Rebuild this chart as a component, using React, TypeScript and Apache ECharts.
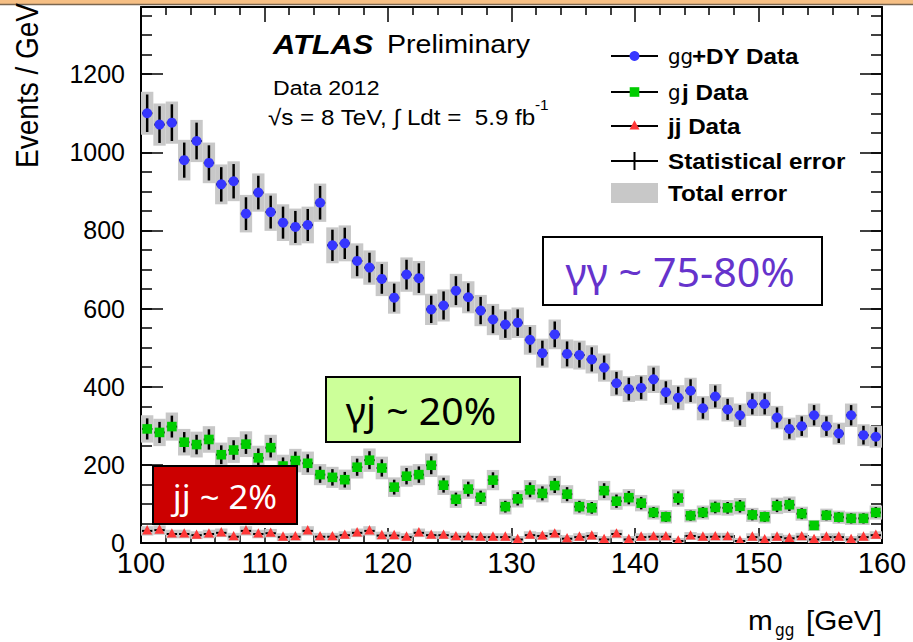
import React, { useEffect, useRef } from "react";
import * as echarts from "echarts";

// ---------- data (1 GeV bins, 100–160 GeV) ----------
const binCenters = [
  100.5, 101.5, 102.5, 103.5, 104.5, 105.5, 106.5, 107.5, 108.5, 109.5,
  110.5, 111.5, 112.5, 113.5, 114.5, 115.5, 116.5, 117.5, 118.5, 119.5,
  120.5, 121.5, 122.5, 123.5, 124.5, 125.5, 126.5, 127.5, 128.5, 129.5,
  130.5, 131.5, 132.5, 133.5, 134.5, 135.5, 136.5, 137.5, 138.5, 139.5,
  140.5, 141.5, 142.5, 143.5, 144.5, 145.5, 146.5, 147.5, 148.5, 149.5,
  150.5, 151.5, 152.5, 153.5, 154.5, 155.5, 156.5, 157.5, 158.5, 159.5,
];

// γγ + DY data
const ggValues = [
  1100, 1071, 1076, 980, 1029, 973, 918, 926, 843, 897,
  847, 820, 809, 814, 871, 762, 767, 722, 705, 676,
  628, 687, 678, 598, 608, 646, 629, 595, 572, 559,
  564, 520, 486, 534, 484, 481, 470, 449, 409, 394,
  397, 419, 386, 372, 390, 345, 375, 342, 327, 356,
  356, 321, 292, 299, 327, 299, 280, 327, 276, 272,
];
const ggStat = [
  48, 47, 47, 45, 47, 45, 44, 44, 42, 43,
  42, 41, 41, 41, 43, 40, 40, 39, 38, 38,
  36, 38, 38, 35, 36, 37, 36, 35, 35, 34,
  34, 33, 32, 33, 32, 32, 31, 31, 29, 29,
  29, 30, 28, 28, 29, 27, 28, 27, 26, 27,
  27, 26, 25, 25, 26, 25, 24, 26, 24, 24,
];
const ggTotal = [
  55, 54, 54, 52, 54, 52, 51, 51, 48, 49,
  48, 47, 47, 47, 49, 46, 46, 45, 44, 44,
  41, 44, 44, 40, 41, 43, 41, 40, 40, 39,
  39, 38, 37, 38, 37, 37, 36, 36, 33, 33,
  33, 35, 32, 32, 33, 31, 32, 31, 30, 31,
  31, 30, 29, 29, 30, 29, 28, 30, 28, 28,
];

// γj data
const gjValues = [
  292, 283, 298, 258, 252, 265, 226, 238, 253, 218,
  244, 197, 211, 204, 175, 168, 162, 194, 212, 192,
  143, 171, 175, 199, 148, 112, 138, 117, 161, 93,
  113, 136, 127, 147, 125, 93, 90, 134, 107, 116,
  102, 78, 67, 115, 70, 78, 91, 90, 94, 72,
  67, 95, 98, 75, 45, 71, 66, 63, 63, 78,
];
const gjStat = [
  27, 27, 28, 26, 25, 26, 24, 25, 25, 24,
  25, 22, 23, 23, 21, 21, 20, 22, 23, 22,
  19, 21, 21, 23, 19, 17, 19, 17, 20, 15,
  17, 19, 18, 19, 18, 15, 15, 19, 17, 17,
  16, 14, 13, 17, 13, 14, 15, 15, 16, 14,
  13, 16, 16, 14, 11, 13, 13, 13, 13, 14,
];
const gjTotal = [
  35, 35, 36, 34, 33, 34, 31, 33, 33, 31,
  33, 29, 30, 30, 27, 27, 26, 29, 30, 29,
  25, 27, 27, 30, 25, 22, 25, 22, 26, 20,
  22, 25, 23, 25, 23, 20, 20, 25, 22, 22,
  21, 18, 17, 22, 17, 18, 20, 20, 21, 18,
  17, 21, 21, 18, 14, 17, 17, 17, 17, 18,
];

// jj data
const jjValues = [
  31, 33, 23, 23, 20, 23, 26, 16, 31, 23,
  25, 15, 16, 31, 16, 16, 20, 26, 31, 19,
  19, 15, 26, 20, 20, 16, 16, 15, 15, 15,
  9, 20, 18, 23, 11, 15, 18, 9, 23, 9,
  15, 16, 16, 5, 18, 15, 16, 16, 5, 15,
  8, 15, 12, 16, 9, 15, 15, 9, 15, 20,
];
const jjStat = [
  6, 6, 5, 5, 4, 5, 5, 4, 6, 5,
  5, 4, 4, 6, 4, 4, 4, 5, 6, 4,
  4, 4, 5, 4, 4, 4, 4, 4, 4, 4,
  3, 4, 4, 5, 3, 4, 4, 3, 5, 3,
  4, 4, 4, 2, 4, 4, 4, 4, 2, 4,
  3, 4, 3, 4, 3, 4, 4, 3, 4, 4,
];
const jjTotal = [
  12, 12, 11, 11, 10, 11, 11, 10, 12, 11,
  11, 10, 10, 12, 10, 10, 10, 11, 12, 10,
  10, 10, 11, 10, 10, 10, 10, 10, 10, 10,
  9, 10, 10, 11, 9, 10, 10, 9, 11, 9,
  10, 10, 10, 8, 10, 10, 10, 10, 8, 10,
  9, 10, 9, 10, 9, 10, 10, 9, 10, 10,
];

// axes
const xRange = [100, 160];
const xMajorStep = 10;
const yRange = [0, 1372];
const yMajorStep = 200;
const yMinorStep = 50;

// ---------- styles ----------
const FONT = '"Liberation Sans", Arial, Helvetica, sans-serif';
const NARROW = '"Liberation Sans Narrow", "DejaVu Sans Condensed", "Roboto Condensed", "DejaVu Sans", sans-serif';
const BLUE = "#3636ff";
const GREEN = "#00cc00";
const RED = "#ff3838";
const GREY = "#c8c8c8";

type Shape = "circle" | "square" | "triangle";

function rows(values: number[], stat: number[], total: number[]) {
  return binCenters.map((x, i) => [x, values[i], stat[i], total[i]]);
}

function boxSeries(name: string, data: number[][]) {
  return {
    type: "custom",
    name,
    data,
    clip: true,
    z: 2,
    encode: { x: 0, y: 1 },
    renderItem: (_p: any, api: any) => {
      const x = api.value(0);
      const v = api.value(1);
      const t = api.value(3);
      const p1 = api.coord([x - 0.5, v + t]);
      const p2 = api.coord([x + 0.5, v - t]);
      return {
        type: "rect",
        shape: { x: p1[0], y: p1[1], width: p2[0] - p1[0], height: p2[1] - p1[1] },
        style: { fill: GREY },
      };
    },
  };
}

function markerEl(shape: Shape, cx: number, cy: number, color: string) {
  if (shape === "circle") {
    return { type: "circle", shape: { cx, cy, r: 5 }, style: { fill: color } };
  }
  if (shape === "square") {
    return { type: "rect", shape: { x: cx - 4.8, y: cy - 4.8, width: 9.6, height: 9.6 }, style: { fill: color } };
  }
  return {
    type: "polygon",
    shape: { points: [[cx, cy - 5.8], [cx - 5, cy + 3.6], [cx + 5, cy + 3.6]] },
    style: { fill: color },
  };
}

function pointSeries(name: string, data: number[][], shape: Shape, color: string) {
  return {
    type: "custom",
    name,
    data,
    clip: true,
    z: 3,
    encode: { x: 0, y: 1 },
    renderItem: (_p: any, api: any) => {
      const x = api.value(0);
      const v = api.value(1);
      const s = api.value(2);
      const c = api.coord([x, v]);
      const top = api.coord([x, v + s]);
      const bot = api.coord([x, v - s]);
      const l = api.coord([x - 0.42, v]);
      const r = api.coord([x + 0.42, v]);
      return {
        type: "group",
        children: [
          { type: "line", shape: { x1: c[0], y1: top[1], x2: c[0], y2: bot[1] }, style: { stroke: "#000", lineWidth: 2.5 } },
          { type: "line", shape: { x1: l[0], y1: c[1], x2: r[0], y2: c[1] }, style: { stroke: "#000", lineWidth: 2 } },
          markerEl(shape, c[0], c[1], color),
        ],
      };
    },
  };
}

function txt(text: string, x: number, y: number, size: number, opts: any = {}) {
  return {
    type: "text",
    x,
    y,
    z: 100,
    scaleX: opts.scaleX ?? 1.1,
    scaleY: opts.scaleY ?? 1,
    rotation: opts.rotation ?? 0,
    style: {
      text,
      fill: opts.fill ?? "#000",
      fontSize: size,
      fontFamily: opts.family ?? FONT,
      fontWeight: opts.weight ?? "normal",
      fontStyle: opts.style ?? "normal",
      align: opts.align ?? "left",
      verticalAlign: "middle",
    },
  };
}

const LEG_X1 = 611;
const LEG_X2 = 658;
const LEG_MX = 634.5;
const LEG_TX = 668;
const legRows = [56, 92, 126, 161, 193];

function buildGraphics() {
  const els: any[] = [];
  // top slide band
  els.push({ type: "rect", z: 100, shape: { x: 0, y: 0, width: 913, height: 4 }, style: { fill: "#f6bf84" } });
  els.push({ type: "line", z: 100, shape: { x1: 0, y1: 4.5, x2: 913, y2: 4.5 }, style: { stroke: "#7a6650", lineWidth: 1.5 } });

  // ATLAS label
  els.push(txt("ATLAS", 273, 44, 28, { weight: "bold", style: "italic" }));
  els.push(txt("Preliminary", 387, 44, 26));
  els.push(txt("Data 2012", 273, 88, 21));
  els.push(txt("√s = 8 TeV, ∫ Ldt =  5.9 fb", 268, 117, 22));
  els.push(txt("-1", 535, 105, 14));

  // legend
  legRows.slice(0, 4).forEach((y) => {
    els.push({ type: "line", z: 100, shape: { x1: LEG_X1, y1: y, x2: LEG_X2, y2: y }, style: { stroke: "#000", lineWidth: 2 } });
  });
  els.push(Object.assign(markerEl("circle", LEG_MX, legRows[0], BLUE), { z: 101 }));
  els.push(Object.assign(markerEl("square", LEG_MX, legRows[1], GREEN), { z: 101 }));
  els.push(Object.assign(markerEl("triangle", LEG_MX, legRows[2], RED), { z: 101 }));
  els.push({ type: "line", z: 100, shape: { x1: LEG_MX, y1: legRows[3] - 9, x2: LEG_MX, y2: legRows[3] + 9 }, style: { stroke: "#000", lineWidth: 2 } });
  els.push({ type: "rect", z: 100, shape: { x: LEG_X1, y: legRows[4] - 10, width: LEG_X2 - LEG_X1, height: 20 }, style: { fill: GREY } });

  els.push(txt("gg", LEG_TX, legRows[0], 22, { family: NARROW, scaleX: 1 }));
  els.push(txt("+DY Data", 692, legRows[0], 22, { weight: "bold" }));
  els.push(txt("g", LEG_TX, legRows[1], 22, { family: NARROW, scaleX: 1 }));
  els.push(txt("j Data", 682, legRows[1], 22, { weight: "bold" }));
  els.push(txt("jj Data", LEG_TX, legRows[2], 22, { weight: "bold" }));
  els.push(txt("Statistical error", LEG_TX, legRows[3], 22, { weight: "bold" }));
  els.push(txt("Total error", LEG_TX, legRows[4], 22, { weight: "bold" }));

  // annotation boxes
  els.push({ type: "rect", z: 100, shape: { x: 543, y: 237, width: 279, height: 68 }, style: { fill: "#ffffff", stroke: "#000", lineWidth: 2 } });
  els.push(txt("γγ ~ 75-80%", 680, 272, 40, { family: '"Noto Sans", sans-serif', fill: "#6633cc", align: "center", scaleX: 1.03 }));

  els.push({ type: "rect", z: 100, shape: { x: 326, y: 377, width: 194, height: 65 }, style: { fill: "#ccff99", stroke: "#000", lineWidth: 2 } });
  els.push(txt("γj ~ 20%", 421, 410, 38, { family: '"Noto Sans", sans-serif', align: "center", scaleX: 1.03 }));

  els.push({ type: "rect", z: 100, shape: { x: 153, y: 466, width: 144, height: 58 }, style: { fill: "#cc0000", stroke: "#000", lineWidth: 2 } });
  els.push(txt("jj ~ 2%", 225, 496, 33, { family: '"Noto Sans", sans-serif', fill: "#ffffff", align: "center", scaleX: 1.05 }));

  // axis titles
  els.push(txt("m", 748, 620, 27));
  els.push(txt("gg", 775, 630, 17, { family: NARROW, scaleX: 1 }));
  els.push(txt("[GeV]", 806, 620, 27));
  els.push(txt("Events / GeV", 27, 3, 28, { align: "right", rotation: Math.PI / 2, scaleX: 1, scaleY: 1.1 }));
  return els;
}

const lineStyle = { color: "#000", width: 2 };
const tickStyle = { color: "#000", width: 1.5 };

function xAxisDef(pos: "bottom" | "top") {
  return {
    type: "value",
    min: xRange[0],
    max: xRange[1],
    interval: xMajorStep,
    position: pos,
    axisLine: { show: true, onZero: false, lineStyle },
    axisTick: { show: true, inside: true, length: 15, lineStyle: tickStyle },
    minorTick: { show: true, splitNumber: 5, length: 8, lineStyle: tickStyle },
    splitLine: { show: false },
    minorSplitLine: { show: false },
    axisLabel:
      pos === "bottom"
        ? { show: true, fontSize: 29, color: "#000", fontFamily: FONT, margin: 5, formatter: (v: number) => String(v) }
        : { show: false },
  };
}

function yAxisDef(pos: "left" | "right", major: boolean) {
  return {
    type: "value",
    min: yRange[0],
    max: yRange[1],
    interval: major ? yMajorStep : yMinorStep,
    position: pos,
    axisLine: { show: major, onZero: false, lineStyle },
    axisTick: { show: true, inside: true, length: major ? 22 : 11, lineStyle: tickStyle },
    splitLine: { show: false },
    axisLabel:
      pos === "left" && major
        ? {
            show: true,
            fontSize: 25,
            color: "#000",
            fontFamily: FONT,
            margin: 16,
            showMaxLabel: false,
            formatter: (v: number) => String(v),
          }
        : { show: false },
  };
}

export default function App() {
  const ref = useRef<HTMLDivElement>(null);
  useEffect(() => {
    if (!ref.current) return;
    const chart = echarts.init(ref.current, undefined, { renderer: "svg" });
    const gg = rows(ggValues, ggStat, ggTotal);
    const gj = rows(gjValues, gjStat, gjTotal);
    const jj = rows(jjValues, jjStat, jjTotal);
    chart.setOption({
      animation: false,
      backgroundColor: "#ffffff",
      grid: { left: 141, right: 31, top: 7, bottom: 99, containLabel: false, outerBoundsMode: "none" },
      xAxis: [xAxisDef("bottom"), xAxisDef("top")],
      yAxis: [yAxisDef("left", true), yAxisDef("left", false), yAxisDef("right", true), yAxisDef("right", false)],
      series: [
        boxSeries("gg box", gg),
        boxSeries("gj box", gj),
        boxSeries("jj box", jj),
        pointSeries("γγ+DY Data", gg, "circle", BLUE),
        pointSeries("γj Data", gj, "square", GREEN),
        pointSeries("jj Data", jj, "triangle", RED),
      ],
      graphic: { elements: buildGraphics() },
    });
    return () => chart.dispose();
  }, []);
  return <div ref={ref} style={{ position: "fixed", left: 0, top: 0, width: 913, height: 642 }} />;
}
